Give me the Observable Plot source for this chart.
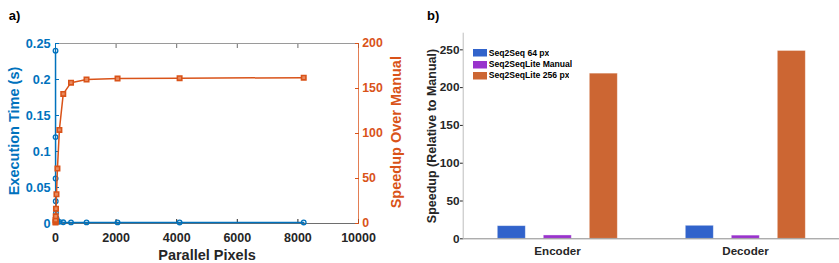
<!DOCTYPE html>
<html><head><meta charset="utf-8">
<script src="https://cdn.jsdelivr.net/npm/d3@7"></script>
<script src="https://cdn.jsdelivr.net/npm/@observablehq/plot@0.6"></script>
<style>
html,body{margin:0;padding:0;background:#fff;}
#wrap{position:relative;width:839px;height:263px;overflow:hidden;font-family:"Liberation Sans",Arial,sans-serif;}
#wrap > *{position:absolute;top:0;}
#legend svg{margin-right:1.7px !important;}
</style></head><body>
<div id="wrap"></div>
<script>
// ---- panel a) data ----
const pixels = [1, 2, 4, 8, 16, 32, 64, 128, 256, 512, 1024, 2048, 4096, 8192];
const execTime = [0.24, 0.12, 0.0625, 0.031, 0.0148, 0.0075, 0.0039, 0.0023, 0.0017, 0.00153, 0.0015, 0.0015, 0.00149, 0.00148];
const speedup = [1, 2, 4, 8, 16.5, 32.5, 61, 104, 144, 156.5, 160, 161, 161.5, 162];
const xTicks = [0, 2000, 4000, 6000, 8000, 10000];
const timeTicks = [0, 0.05, 0.1, 0.15, 0.2, 0.25];
const speedTicks = [0, 50, 100, 150, 200];

// ---- panel b) data ----
const groups = ["Encoder", "Decoder"];
const seriesNames = ["Seq2Seq 64 px", "Seq2SeqLite Manual", "Seq2SeqLite 256 px"];
const encoderSpeedup = [16.7, 4.4, 218.5];
const decoderSpeedup = [17.2, 4.2, 248.5];
const barTicks = [0, 50, 100, 150, 200, 250];
const barColors = ["#3163CB", "#9933CC", "#CC6633"];

const FONT = "Liberation Sans, Arial, sans-serif";
const BLUE = "#0072BD", ORANGE = "#D95319", INK = "#262626";
const wrap = document.getElementById("wrap");

const common = {
  width: 410, height: 263, marginLeft: 55, marginRight: 52, marginTop: 43, marginBottom: 40,
  style: {background: "transparent", fontFamily: FONT, overflow: "visible"}
};

const timeData = pixels.map((p, i) => ({p, t: execTime[i]}));
const speedData = pixels.map((p, i) => ({p, s: speedup[i]}));

const timePlot = Plot.plot({
  ...common,
  x: {domain: [0, 10000]},
  y: {domain: [0, 0.25]},
  marks: [
    Plot.ruleY([0.25], {stroke: "#9a9a9a"}),
    Plot.ruleY([0], {stroke: "#6e6e6e"}),
    Plot.axisX({ticks: xTicks, tickSize: -4, tickPadding: 14, tickFormat: d => String(d), label: null,
      fontSize: 12.5, fontWeight: "bold", color: INK}),
    Plot.axisX({anchor: "top", ticks: xTicks, tickSize: -4, tickFormat: () => "", label: null, color: "#6e6e6e"}),
    Plot.ruleX([0], {stroke: BLUE}),
    Plot.axisY({ticks: timeTicks, tickSize: -4, tickPadding: 9, tickFormat: d => String(d), label: null,
      fontSize: 12.7, fontWeight: "bold", color: BLUE}),
    Plot.line(timeData, {x: "p", y: "t", stroke: BLUE, strokeWidth: 1.5}),
    Plot.dot(timeData, {x: "p", y: "t", r: 2.3, stroke: BLUE, strokeWidth: 1.3, fill: "none"}),
    Plot.text(["Execution Time (s)"], {text: d => d, frameAnchor: "left", textAnchor: "middle", lineAnchor: "middle",
      rotate: -90, dx: -41, dy: -2.5, fill: BLUE, fontSize: 14.5, fontWeight: "bold"}),
    Plot.text(["Parallel Pixels"], {text: d => d, frameAnchor: "bottom", textAnchor: "middle", lineAnchor: "middle",
      dy: 31.5, fill: INK, fontSize: 14.5, fontWeight: "bold"}),
    Plot.text(["a)"], {text: d => d, frameAnchor: "top-left", textAnchor: "middle", lineAnchor: "middle",
      dx: -41, dy: -28, fill: "#000", fontSize: 13, fontWeight: "bold"})
  ]
});
timePlot.style.left = "0px";
wrap.appendChild(timePlot);

const speedPlot = Plot.plot({
  ...common,
  x: {domain: [0, 10000], axis: null},
  y: {domain: [0, 200]},
  marks: [
    Plot.ruleX([10000], {stroke: ORANGE, strokeOpacity: 0.75}),
    Plot.axisY({anchor: "right", ticks: speedTicks, tickSize: -4, tickPadding: 7.7, label: null,
      fontSize: 12.3, fontWeight: "bold", color: ORANGE}),
    Plot.line(speedData, {x: "p", y: "s", stroke: ORANGE, strokeWidth: 1.5}),
    Plot.dot(speedData, {x: "p", y: "s", symbol: "square", r: 2.5, stroke: ORANGE, strokeWidth: 1.6, fill: "#E98A5E"}),
    Plot.text(["Speedup Over Manual"], {text: d => d, frameAnchor: "right", textAnchor: "middle", lineAnchor: "middle",
      rotate: -90, dx: 38, dy: -1.3, fill: ORANGE, fontSize: 14.5, fontWeight: "bold"})
  ]
});
speedPlot.style.left = "0px";
wrap.appendChild(speedPlot);

// ---- bar chart ----
const barData = groups.flatMap((g, gi) => seriesNames.map((s, si) => ({
  group: g, series: s, value: (gi === 0 ? encoderSpeedup : decoderSpeedup)[si]
})));

const barMargins = {width: 429, height: 263, marginLeft: 52.7, marginRight: 0, marginTop: 32.7, marginBottom: 24.7};

const barPlot = Plot.plot({
  ...barMargins,
  style: {background: "transparent", fontFamily: FONT, overflow: "visible"},
  fx: {domain: groups, padding: 0, label: null},
  x: {domain: seriesNames, paddingInner: 0.4, paddingOuter: 0.725, axis: null},
  y: {domain: [0, 272]},
  color: {domain: seriesNames, range: barColors},
  marks: [
    Plot.barY(barData, {fx: "group", x: "series", y: "value", fill: "series", stroke: "#ffffff", strokeOpacity: 0.45, strokeWidth: 0.8}),
    Plot.ruleY([0], {stroke: "#8a8a8a"}),
    Plot.axisY({ticks: barTicks, tickSize: 3, tickPadding: 1, label: null, fontSize: 11.8, fontWeight: "bold", color: INK}),
    Plot.axisFx({anchor: "bottom", tickSize: 0, tickPadding: 8, label: null, fontSize: 11.6, fontWeight: "bold", color: INK})
  ]
});
barPlot.style.left = "410px";
wrap.appendChild(barPlot);

// overlay for panel b) frame edge and titles (no facets)
const barTitles = Plot.plot({
  ...barMargins,
  style: {background: "transparent", fontFamily: FONT, overflow: "visible"},
  marks: [
    Plot.frame({anchor: "left", stroke: "#bdbdbd"}),
    Plot.text(["Speedup (Relative to Manual)"], {text: d => d, frameAnchor: "left", textAnchor: "middle",
      lineAnchor: "middle", rotate: -90, dx: -31, dy: 0, fill: INK, fontSize: 12.5, fontWeight: "bold"}),
    Plot.text(["b)"], {text: d => d, frameAnchor: "top-left", textAnchor: "middle", lineAnchor: "middle",
      dx: -30, dy: -17.7, fill: "#000", fontSize: 13, fontWeight: "bold"})
  ]
});
barTitles.style.left = "410px";
wrap.appendChild(barTitles);

const legend = Plot.legend({
  color: {domain: seriesNames, range: barColors},
  legend: "swatches", columns: 1, swatchWidth: 14, swatchHeight: 7.5,
  style: {fontSize: "8.6px", fontWeight: "bold", fontFamily: FONT, color: "#000", lineHeight: "10.2px", margin: "0", minHeight: "0"}
});
legend.id = "legend";
legend.style.left = "473px";
legend.style.top = "48px";
wrap.appendChild(legend);
</script>
</body></html>
